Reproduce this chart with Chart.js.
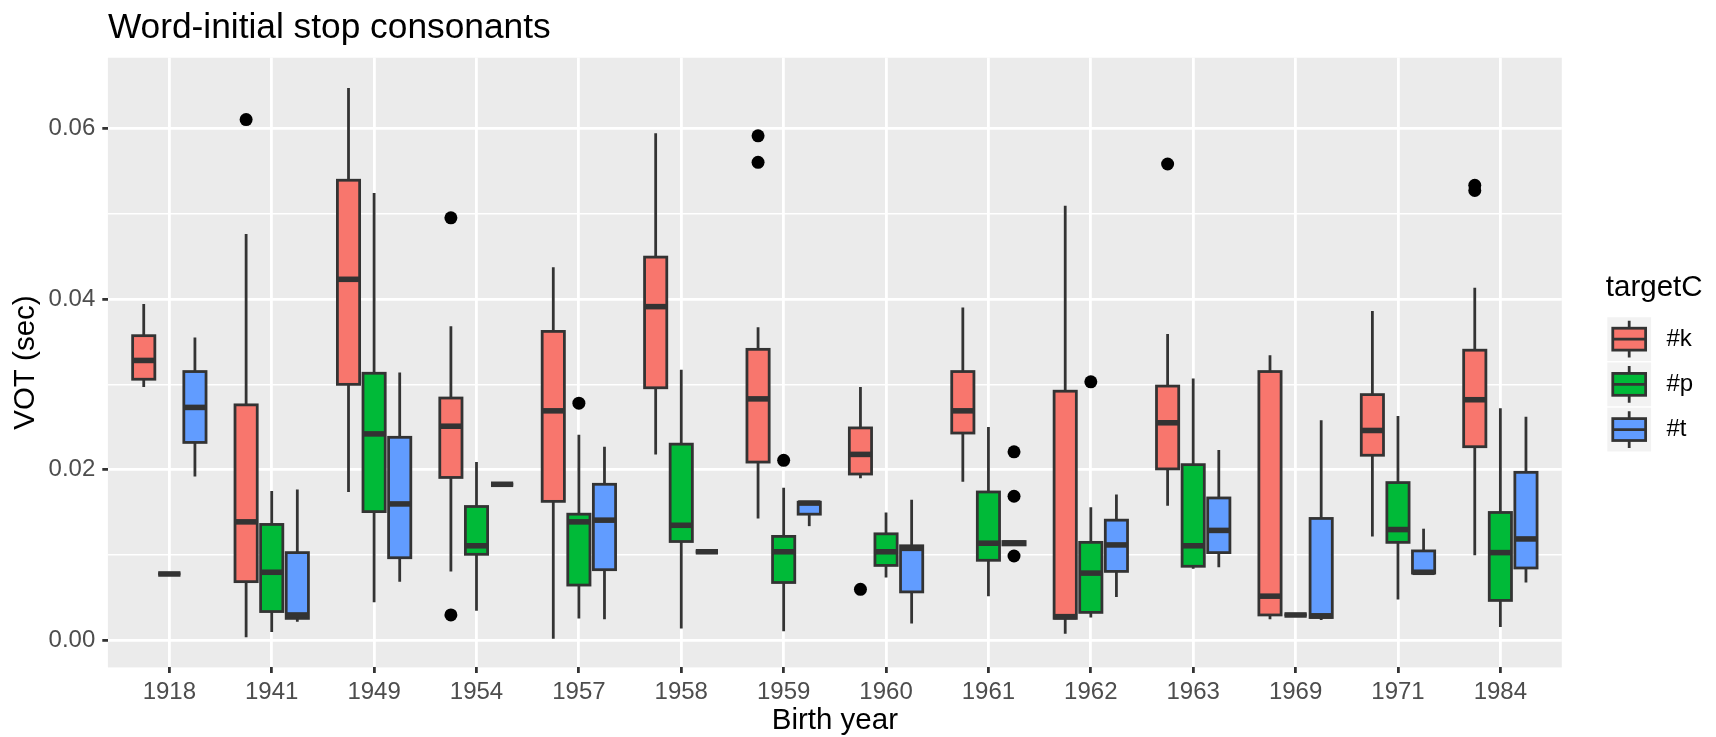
<!DOCTYPE html>
<html>
<head>
<meta charset="utf-8">
<title>Word-initial stop consonants</title>
<script src="https://cdn.jsdelivr.net/npm/chart.js@4.4.1/dist/chart.umd.min.js"></script>
<style>
  html, body { margin: 0; padding: 0; background: #ffffff; }
</style>
</head>
<body>
<canvas id="votChart" width="1716" height="737"></canvas>
<script>
// Birth years on the x axis
const years = ['1918', '1941', '1949', '1954', '1957', '1958', '1959', '1960', '1961', '1962', '1963', '1969', '1971', '1984'];
const consonants = ['#k', '#p', '#t'];

// five-number summaries (sec) per birth year
const kLow = [0.0297, 0.0004, 0.0174, 0.0081, 0.0002, 0.0218, 0.0143, 0.0190, 0.0186, 0.0008, 0.0158, 0.0025, 0.0122, 0.0100];
const kQ1  = [0.0306, 0.0069, 0.0300, 0.0191, 0.0163, 0.0296, 0.0209, 0.0195, 0.0243, 0.0026, 0.0201, 0.0030, 0.0217, 0.0227];
const kMed = [0.0328, 0.0139, 0.0423, 0.0251, 0.0269, 0.0391, 0.0283, 0.0218, 0.0269, 0.0028, 0.0255, 0.0052, 0.0246, 0.0282];
const kQ3  = [0.0357, 0.0276, 0.0539, 0.0284, 0.0362, 0.0449, 0.0341, 0.0249, 0.0315, 0.0292, 0.0298, 0.0315, 0.0288, 0.0340];
const kHigh = [0.0394, 0.0476, 0.0647, 0.0368, 0.0437, 0.0594, 0.0367, 0.0297, 0.0390, 0.0509, 0.0359, 0.0334, 0.0386, 0.0413];

const pLow = [0.0078, 0.0010, 0.0045, 0.0035, 0.0026, 0.0014, 0.0011, 0.0074, 0.0052, 0.0027, 0.0084, 0.0030, 0.0048, 0.0016];
const pQ1  = [0.0078, 0.0034, 0.0151, 0.0101, 0.0065, 0.0116, 0.0068, 0.0088, 0.0094, 0.0033, 0.0087, 0.0030, 0.0115, 0.0047];
const pMed = [0.0078, 0.0080, 0.0242, 0.0111, 0.0139, 0.0135, 0.0104, 0.0104, 0.0114, 0.0079, 0.0111, 0.0030, 0.0130, 0.0103];
const pQ3  = [0.0078, 0.0136, 0.0313, 0.0157, 0.0148, 0.0230, 0.0122, 0.0125, 0.0174, 0.0115, 0.0206, 0.0030, 0.0185, 0.0150];
const pHigh = [0.0078, 0.0175, 0.0524, 0.0209, 0.0241, 0.0317, 0.0179, 0.0150, 0.0250, 0.0156, 0.0307, 0.0030, 0.0263, 0.0272];

const tLow = [0.0192, 0.0022, 0.0069, 0.0181, 0.0025, 0.0104, 0.0134, 0.0020, 0.0112, 0.0051, 0.0086, 0.0024, 0.0079, 0.0068];
const tQ1  = [0.0232, 0.0026, 0.0097, 0.0183, 0.0083, 0.0104, 0.0148, 0.0057, 0.0112, 0.0081, 0.0103, 0.0027, 0.0079, 0.0085];
const tMed = [0.0273, 0.0030, 0.0160, 0.0183, 0.0141, 0.0104, 0.0161, 0.0108, 0.0114, 0.0112, 0.0129, 0.0029, 0.0080, 0.0119];
const tQ3  = [0.0315, 0.0103, 0.0238, 0.0183, 0.0183, 0.0104, 0.0162, 0.0111, 0.0116, 0.0141, 0.0167, 0.0143, 0.0105, 0.0197];
const tHigh = [0.0355, 0.0177, 0.0314, 0.0183, 0.0227, 0.0104, 0.0162, 0.0165, 0.0116, 0.0171, 0.0223, 0.0258, 0.0131, 0.0262];

// outlying tokens per birth year
const kOut = [[], [0.0610], [], [0.0495, 0.0030], [], [], [0.0591, 0.0560], [0.0060], [], [], [0.0558], [], [], [0.0533, 0.0527]];
const pOut = [[], [], [], [], [0.0278], [], [0.0211], [], [], [0.0303], [], [], [], []];
const tOut = [[], [], [], [], [], [], [], [], [0.0221, 0.0169, 0.0099], [], [], [], [], []];

const fills = ['#F8766D', '#00BA38', '#619CFF'];
const INK = '#333333';
const LINE = 2.78;
const DODGE = 0.25;
const FONT = "'Liberation Sans', Arial, sans-serif";

const stats = [
  {low: kLow, q1: kQ1, med: kMed, q3: kQ3, high: kHigh, out: kOut},
  {low: pLow, q1: pQ1, med: pMed, q3: pQ3, high: pHigh, out: pOut},
  {low: tLow, q1: tQ1, med: tMed, q3: tQ3, high: tHigh, out: tOut}
];

const boxSets = stats.map((s, g) => ({
  type: 'bar',
  label: consonants[g],
  data: years.map((_, i) => ({x: i, y: [s.q1[i], s.q3[i]]})),
  backgroundColor: fills[g],
  borderWidth: 0,
  categoryPercentage: 0.75,
  barPercentage: 0.868,
  order: 1
}));

const outlierSets = stats.map((s, g) => ({
  type: 'scatter',
  label: consonants[g] + ' outliers',
  data: s.out.flatMap((vals, i) => vals.map(v => ({x: i + (g - 1) * DODGE, y: v}))),
  backgroundColor: '#000000',
  borderWidth: 0,
  pointRadius: 6.5,
  order: 0
}));

// grey panel behind the grid
const panelBackground = {
  id: 'panelBackground',
  beforeDraw(chart) {
    const {ctx, chartArea: a} = chart;
    ctx.save();
    ctx.fillStyle = '#EBEBEB';
    ctx.fillRect(a.left, a.top, a.right - a.left, a.bottom - a.top);
    ctx.restore();
  }
};

// whiskers, box outline and median for every bar
const boxDetails = {
  id: 'boxDetails',
  afterDatasetsDraw(chart) {
    const {ctx} = chart;
    const y = chart.scales.y;
    ctx.save();
    ctx.strokeStyle = INK;
    ctx.lineCap = 'butt';
    stats.forEach((s, g) => {
      chart.getDatasetMeta(g).data.forEach((bar, i) => {
        const x = bar.x, half = bar.width / 2;
        const yLow = y.getPixelForValue(s.low[i]);
        const yQ1 = y.getPixelForValue(s.q1[i]);
        const yMed = y.getPixelForValue(s.med[i]);
        const yQ3 = y.getPixelForValue(s.q3[i]);
        const yHigh = y.getPixelForValue(s.high[i]);
        ctx.lineWidth = LINE;
        ctx.beginPath();
        ctx.moveTo(x, yHigh); ctx.lineTo(x, yQ3);
        ctx.moveTo(x, yQ1); ctx.lineTo(x, yLow);
        ctx.stroke();
        ctx.strokeRect(x - half, yQ3, half * 2, yQ1 - yQ3);
        ctx.lineWidth = LINE * 2;
        ctx.beginPath();
        ctx.moveTo(x - half, yMed); ctx.lineTo(x + half, yMed);
        ctx.stroke();
      });
    });
    ctx.restore();
  }
};

// legend with small box glyphs, to the right of the panel
const boxLegend = {
  id: 'boxLegend',
  afterDraw(chart) {
    const {ctx, chartArea: a} = chart;
    const left = a.right + 45.5;
    const top = a.top + 259.5;
    const key = 45.2;
    ctx.save();
    ctx.fillStyle = '#000000';
    ctx.font = '29.5px ' + FONT;
    ctx.textAlign = 'left';
    ctx.textBaseline = 'alphabetic';
    ctx.fillText('targetC', left - 1.5, top - 21);
    boxSets.forEach((ds, g) => {
      const ky = top + g * key;
      ctx.fillStyle = '#F2F2F2';
      ctx.fillRect(left, ky, key - 1.4, key - 1.4);
      const s = key - 1.4;
      const cx = left + s / 2;
      const bx = left + s * 0.125, bw = s * 0.75;
      const by = ky + s * 0.25, bh = s * 0.5;
      ctx.strokeStyle = INK;
      ctx.lineWidth = LINE;
      ctx.beginPath();
      ctx.moveTo(cx, ky + s * 0.08); ctx.lineTo(cx, by);
      ctx.moveTo(cx, by + bh); ctx.lineTo(cx, ky + s * 0.92);
      ctx.stroke();
      ctx.fillStyle = ds.backgroundColor;
      ctx.fillRect(bx, by, bw, bh);
      ctx.strokeRect(bx, by, bw, bh);
      ctx.beginPath();
      ctx.moveTo(bx, ky + s / 2); ctx.lineTo(bx + bw, ky + s / 2);
      ctx.stroke();
      ctx.fillStyle = '#000000';
      ctx.font = '24px ' + FONT;
      ctx.textBaseline = 'middle';
      ctx.fillText(ds.label, left + key + 14, ky + s / 2);
      ctx.textBaseline = 'alphabetic';
    });
    ctx.restore();
  }
};

const isMinor = v => Math.round(v * 100) % 2 !== 0;

new Chart(document.getElementById('votChart'), {
  type: 'bar',
  data: {datasets: [...boxSets, ...outlierSets]},
  plugins: [panelBackground, boxDetails, boxLegend],
  options: {
    responsive: false,
    animation: false,
    events: [],
    layout: {padding: {left: 0, right: 154.2, top: 0, bottom: 0}},
    plugins: {
      legend: {display: false},
      tooltip: {enabled: false},
      title: {
        display: true,
        text: 'Word-initial stop consonants',
        align: 'start',
        fullSize: false,
        color: '#000000',
        font: {family: FONT, size: 35.3, weight: 'normal'},
        padding: {top: 7.5, bottom: 7.9}
      }
    },
    scales: {
      x: {
        type: 'linear',
        min: -0.6,
        max: 13.6,
        offset: false,
        afterBuildTicks: s => { s.ticks = years.map((_, i) => ({value: i})); },
        afterFit: s => { s.height = 69.6; },
        border: {display: false},
        grid: {offset: false, color: '#FFFFFF', lineWidth: LINE, tickColor: INK, tickLength: 5.6, tickWidth: LINE},
        ticks: {
          autoSkip: false, maxRotation: 0, padding: 5,
          color: '#4D4D4D', font: {family: FONT, size: 24},
          callback: v => years[v]
        },
        title: {
          display: true, text: 'Birth year', color: '#000000',
          font: {family: FONT, size: 29.5, lineHeight: 1.2},
          padding: {top: 0, bottom: -1.7}
        }
      },
      y: {
        type: 'linear',
        min: -0.00314,
        max: 0.06824,
        afterBuildTicks: s => { s.ticks = [0, 1, 2, 3, 4, 5, 6].map(k => ({value: k / 100})); },
        afterFit: s => { s.width = 107.9; },
        border: {display: false},
        grid: {
          color: '#FFFFFF',
          lineWidth: c => (c.tick && isMinor(c.tick.value) ? LINE / 2 : LINE),
          tickColor: c => (c.tick && isMinor(c.tick.value) ? 'rgba(0,0,0,0)' : INK),
          tickLength: 5.6,
          tickWidth: LINE
        },
        ticks: {
          autoSkip: false, padding: 7,
          color: '#4D4D4D', font: {family: FONT, size: 24},
          callback: v => (isMinor(v) ? '' : v.toFixed(2))
        },
        title: {
          display: true, text: 'VOT (sec)', color: '#000000',
          font: {family: FONT, size: 29.5, lineHeight: 1.2},
          padding: {top: 8, bottom: 0}
        }
      }
    }
  }
});
</script>
</body>
</html>
